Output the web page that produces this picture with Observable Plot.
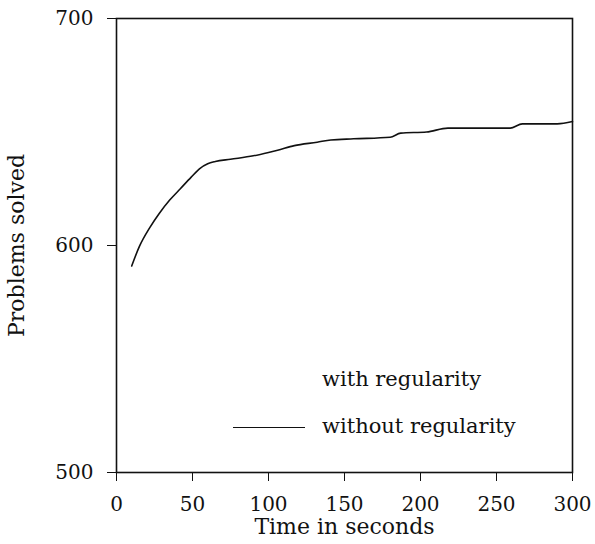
<!DOCTYPE html>
<html>
<head>
<meta charset="utf-8">
<script src="https://cdn.jsdelivr.net/npm/d3@7"></script>
<script src="https://cdn.jsdelivr.net/npm/@observablehq/plot@0.6"></script>
<style>
  body { margin: 0; background: #fff; }
  #wrap { position: relative; width: 595px; height: 544px; font-family: "DejaVu Serif", serif; }
  .leg { position: absolute; font-size: 21px; color: #111; white-space: nowrap; line-height: 1; }
  .swatch { position: absolute; border-top: 1.6px solid #111; width: 72px; }
</style>
</head>
<body>
<div id="wrap"></div>
<script>
const times  = [10, 15, 22, 28, 35, 42, 49, 55, 60, 65, 75, 90, 100, 106, 117, 132, 141, 156, 180, 187, 204, 218, 259, 267, 290, 300];
const solved = [591, 599.5, 608, 614, 620, 625, 630, 634, 636, 637, 638, 639.5, 641, 642, 644, 645.5, 646.5, 647, 647.7, 649.5, 650, 651.7, 651.7, 653.6, 653.6, 654.6];
const xTicks = [0, 50, 100, 150, 200, 250, 300];
const yTicks = [500, 600, 700];
const seriesNames = ["with regularity", "without regularity"];

const data = times.map((t, i) => ({t, v: solved[i]}));

const chart = Plot.plot({
  width: 595,
  height: 544,
  marginLeft: 116,
  marginRight: 23,
  marginTop: 18,
  marginBottom: 72,
  style: {fontFamily: "DejaVu Serif, serif", fontSize: "20px", color: "#111", background: "#fff"},
  x: {domain: [0, 300]},
  y: {domain: [500, 700]},
  marks: [
    Plot.frame({stroke: "#111", strokeWidth: 1.6}),
    Plot.axisX({ticks: xTicks, tickSize: 9, tickPadding: 15, tickFormat: d => String(d), stroke: "#111", fontSize: 20, label: null}),
    Plot.axisX({ticks: [], label: "Time in seconds", labelAnchor: "center", labelArrow: "none", labelOffset: 61, fontSize: 22}),
    Plot.axisY({ticks: yTicks, tickSize: 9, tickPadding: 14, tickFormat: d => String(d), stroke: "#111", fontSize: 20, label: null}),
    Plot.axisY({ticks: [], label: "Problems solved", labelAnchor: "center", labelArrow: "none", labelOffset: 108, fontSize: 22}),
    Plot.line(data, {x: "t", y: "v", stroke: "#111", strokeWidth: 1.6, curve: "monotone-x"})
  ]
});
const wrap = document.getElementById("wrap");
wrap.appendChild(chart);

const l1 = document.createElement("div");
l1.className = "leg"; l1.textContent = seriesNames[0];
l1.style.left = "322px"; l1.style.top = "369px";
wrap.appendChild(l1);
const l2 = document.createElement("div");
l2.className = "leg"; l2.textContent = seriesNames[1];
l2.style.left = "322px"; l2.style.top = "416px";
wrap.appendChild(l2);
const sw = document.createElement("div");
sw.className = "swatch"; sw.style.left = "233px"; sw.style.top = "427px";
wrap.appendChild(sw);
</script>
</body>
</html>
